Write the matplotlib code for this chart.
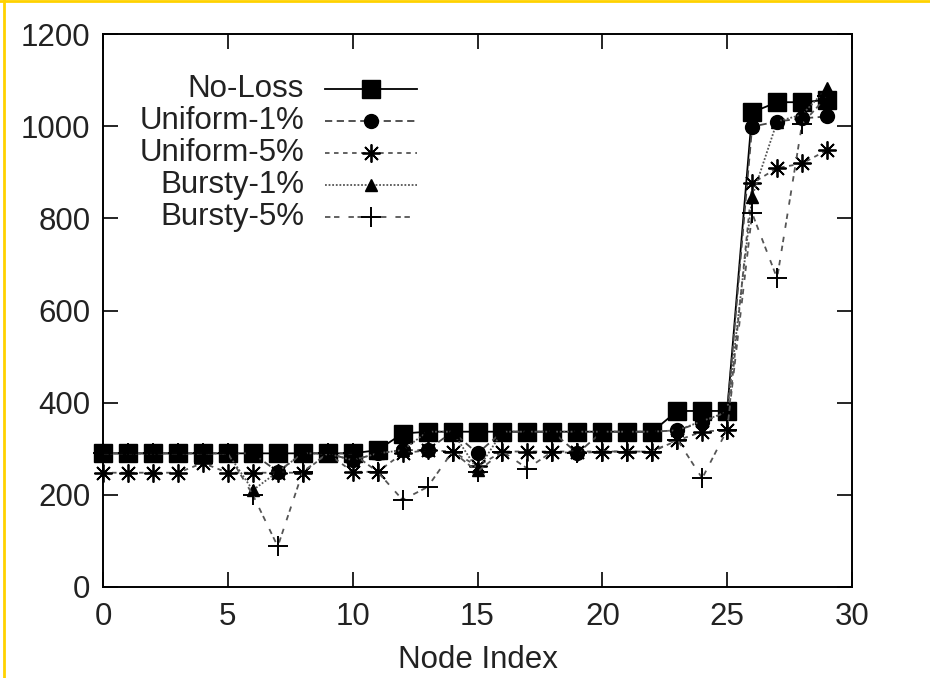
import matplotlib
matplotlib.use("Agg")
import matplotlib.pyplot as plt
from matplotlib.lines import Line2D

plt.rcParams['font.family'] = ['Liberation Sans', 'DejaVu Sans']

nodes = list(range(30))
labels = ["No-Loss", "Uniform-1%", "Uniform-5%", "Bursty-1%", "Bursty-5%"]

no_loss = [290, 290, 290, 290, 290, 290, 290, 290, 290, 290,
           290, 297, 333, 337, 337, 337, 337, 337, 337, 337,
           337, 337, 337, 382, 382, 382, 1030, 1052, 1052, 1057]
uniform_1 = [290, 290, 290, 290, 290, 290, 290, 250, 290, 290,
             275, 290, 297, 297, 337, 290, 337, 337, 337, 290,
             337, 337, 337, 340, 358, 380, 999, 1010, 1017, 1021]
uniform_5 = [248, 248, 248, 248, 269, 248, 248, 248, 248, 290,
             250, 250, 290, 297, 294, 262, 294, 294, 294, 294,
             294, 294, 294, 318, 337, 341, 876, 909, 919, 948]
bursty_1 = [290, 290, 290, 290, 290, 290, 210, 250, 290, 290,
            275, 290, 297, 337, 337, 254, 337, 337, 337, 337,
            337, 337, 337, 340, 360, 380, 847, 1010, 1025, 1082]
bursty_5 = [290, 290, 290, 290, 290, 290, 200, 88, 250, 290,
            290, 250, 189, 217, 294, 250, 294, 257, 294, 290,
            294, 294, 294, 320, 236, 341, 811, 670, 1005, 1065]

x_ticks = [0, 5, 10, 15, 20, 25, 30]
y_ticks = [0, 200, 400, 600, 800, 1000, 1200]
x_label = "Node Index"

W, H = 930, 678
fig = plt.figure(figsize=(W / 100, H / 100), dpi=100)
ax = fig.add_axes([103 / W, 1 - 587 / H, (852 - 103) / W, (587 - 34) / H])

series = [no_loss, uniform_1, uniform_5, bursty_1, bursty_5]
styles = [
    dict(color='black', ls='-', lw=1.3, marker='s', ms=13, mfc='black', mec='black', mew=1),
    dict(color='#444444', ls=(0, (4, 2.5)), lw=1.3, marker='o', ms=10, mfc='black', mec='black', mew=1),
    dict(color='#555555', ls=(0, (2.5, 2.5)), lw=1.3, marker=(8, 2, 0), ms=13, mfc='black', mec='black', mew=1.3),
    dict(color='#555555', ls=(0, (1, 1)), lw=1.3, marker='^', ms=8.5, mfc='black', mec='black', mew=1),
    dict(color='#555555', ls=(0, (3, 2, 3, 5)), lw=1.3, marker='+', ms=14, mfc='black', mec='black', mew=1.4),
]

for vals, st, lab in zip(series, styles, labels):
    ax.plot(nodes, vals, label=lab, clip_on=False, **st)

FS = 22.5
TXT = '#222222'
ax.set_xlim(0, 30)
ax.set_ylim(0, 1200)
ax.set_xticks(x_ticks)
ax.set_yticks(y_ticks)
ax.tick_params(direction='in', length=11, width=1.2, top=True, right=True,
               labelsize=FS, labelcolor=TXT, colors='black', pad=9)
ax.tick_params(axis='x', pad=11)
for sp in ax.spines.values():
    sp.set_linewidth(1.4)
ax.set_xlabel(x_label, fontsize=FS, labelpad=9, color=TXT)

# gnuplot-style legend: right-aligned text, sample line to the right
rows_y = [89, 121, 153, 185, 217]
x_text = 304
x0, x1, xm = 325, 417, 371
def ax_coords(px, py):
    return ((px - 103) / (852 - 103), (587 - py) / (587 - 34))
for lab, st, ry in zip(labels, styles, rows_y):
    tx, ty = ax_coords(x_text, ry)
    ax.text(tx, ty, lab, transform=ax.transAxes, ha='right', va='center', fontsize=FS, color=TXT)
    lx0, ly = ax_coords(x0, ry)
    lx1, _ = ax_coords(x1, ry)
    lxm, _ = ax_coords(xm, ry)
    s = dict(st)
    ax.add_line(Line2D([lx0, lx1], [ly, ly], transform=ax.transAxes, color=s['color'],
                       ls=s['ls'], lw=s['lw']))
    ax.add_line(Line2D([lxm], [ly], transform=ax.transAxes, ls='none', marker=s['marker'],
                       ms=s['ms'], mfc=s['mfc'], mec=s['mec'], mew=s['mew']))

# yellow frame on top and left
fig.add_artist(Line2D([0, 1], [1 - 1 / H, 1 - 1 / H], transform=fig.transFigure, color='#FFD200', lw=2))
fig.add_artist(Line2D([4 / W, 4 / W], [0, 1], transform=fig.transFigure, color='#FFD200', lw=2))

fig.savefig("out.png", dpi=100)
